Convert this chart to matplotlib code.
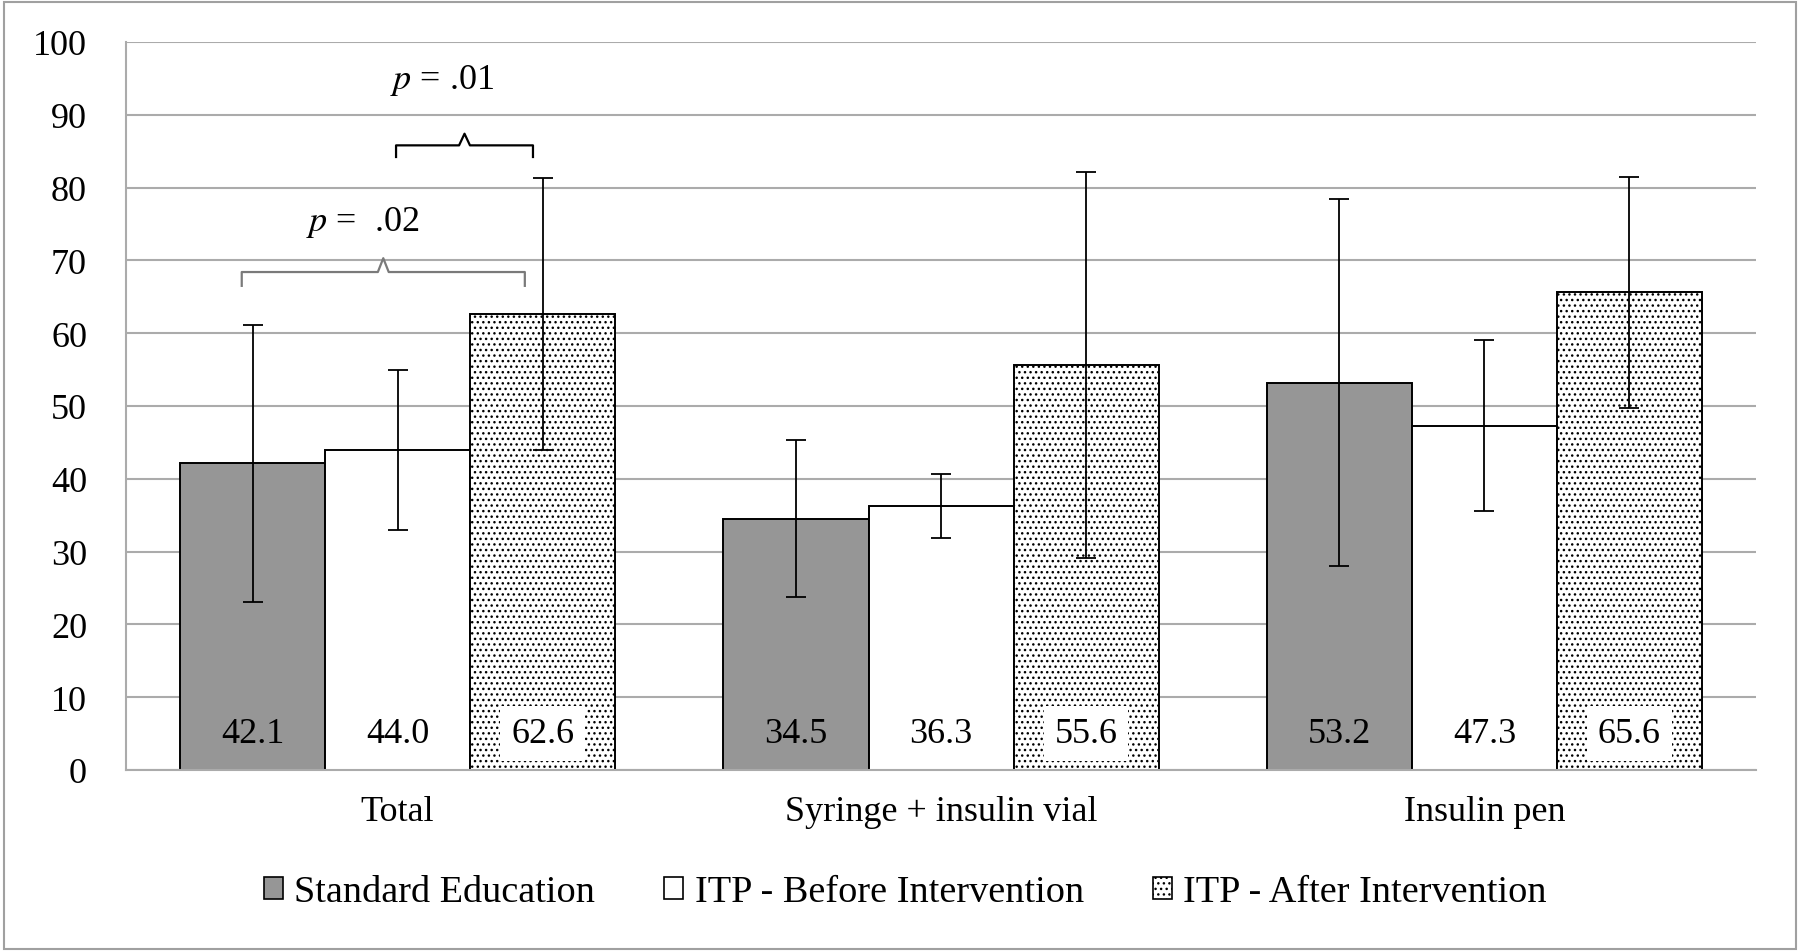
import matplotlib
matplotlib.use('Agg')
import matplotlib.pyplot as plt
from matplotlib.patches import Rectangle, Patch
import numpy as np

# Datos
categorias = ['Total', 'Syringe + insulin vial', 'Insulin pen']
series = ['Standard Education', 'ITP - Before Intervention', 'ITP - After Intervention']
standard = [42.1, 34.5, 53.2]
itp_antes = [44.0, 36.3, 47.3]
itp_despues = [62.6, 55.6, 65.6]
err_standard = [19.0, 10.8, 25.2]
err_antes = [11.0, 4.4, 11.7]
err_despues = [18.7, 26.5, 15.9]
yticks = list(range(0, 101, 10))
p_textos = ['$p$ =  .02', '$p$ = .01']

plt.rcParams['font.family'] = ['Liberation Serif', 'DejaVu Serif']
plt.rcParams['mathtext.fontset'] = 'stix'
plt.rcParams['hatch.linewidth'] = 1.0

GRIS = '#969696'
GRID = '#ababab'
FS = 26


# Dibuja una llave entre dos barras
def llave(ax, x0, x1, y, alto, color):
    xm = (x0 + x1) / 2
    ax.plot([x0, x0, xm - 0.01, xm, xm + 0.01, x1, x1],
            [y - alto, y, y, y + alto, y, y, y - alto],
            color=color, lw=1.6, solid_joinstyle='round', zorder=5)


def config_grafica():
    fig = plt.figure(figsize=(18, 9.53), dpi=100)
    ax = fig.add_axes([0.07, 0.191, 0.9056, 0.7639])
    ax.set_xlim(-0.5, 2.5)
    ax.set_ylim(0, 100)
    ax.set_yticks(yticks)
    ax.yaxis.grid(True, color=GRID, lw=1.5)
    ax.set_axisbelow(True)
    for lado in ['right', 'top']:
        ax.spines[lado].set_visible(False)
    for lado in ['left', 'bottom']:
        ax.spines[lado].set_color(GRID)
        ax.spines[lado].set_linewidth(1.5)
    ax.tick_params(axis='y', length=0, pad=28, labelsize=FS)
    ax.tick_params(axis='x', length=0, pad=18, labelsize=FS)
    # borde exterior de la figura
    fig.patches.append(Rectangle((0.002, 0.003), 0.996, 0.994, transform=fig.transFigure,
                                 fill=False, edgecolor='#a0a0a0', lw=1.5))
    return fig, ax


def generarGrafica():
    fig, ax = config_grafica()
    x = np.arange(len(categorias))
    w = 0.267
    valores = [standard, itp_antes, itp_despues]
    errores = [err_standard, err_antes, err_despues]
    colores = [GRIS, 'white', 'white']
    tramas = [None, None, '...']
    for i in range(3):
        pos = x + (i - 1) * w
        ax.bar(pos, valores[i], w, color=colores[i], edgecolor='black', lw=1.4,
               hatch=tramas[i], zorder=2)
        ax.errorbar(pos, valores[i], yerr=errores[i], fmt='none', ecolor='black',
                    elinewidth=1.3, capsize=7, capthick=1.3, zorder=4)
        for xi, v in zip(pos, valores[i]):
            caja = None
            if tramas[i]:
                caja = dict(boxstyle='square,pad=0.3', facecolor='white', edgecolor='none')
            ax.text(xi, 3.85, '%.1f' % v, ha='center', va='baseline', fontsize=FS,
                    bbox=caja, zorder=6)
    ax.set_xticks(x)
    ax.set_xticklabels(categorias)

    # llaves de significacion
    llave(ax, -0.287, 0.234, 68.4, 1.9, '#7a7a7a')
    llave(ax, -0.003, 0.249, 85.8, 1.6, 'black')
    ax.text(-0.064, 75.4, p_textos[0], ha='center', va='center', fontsize=FS)
    ax.text(0.082, 94.9, p_textos[1], ha='center', va='center', fontsize=FS)

    manejadores = [Patch(facecolor=GRIS, edgecolor='black', lw=1.2),
                   Patch(facecolor='white', edgecolor='black', lw=1.2),
                   Patch(facecolor='white', edgecolor='black', lw=1.2, hatch='...')]
    fig.legend(manejadores, series, loc='center', bbox_to_anchor=(0.503, 1 - 893 / 953),
               ncol=3, frameon=False, fontsize=27.5, handlelength=0.5, handleheight=0.5,
               handletextpad=0.3, columnspacing=1.8)
    fig.savefig('out.png', dpi=100)


generarGrafica()
